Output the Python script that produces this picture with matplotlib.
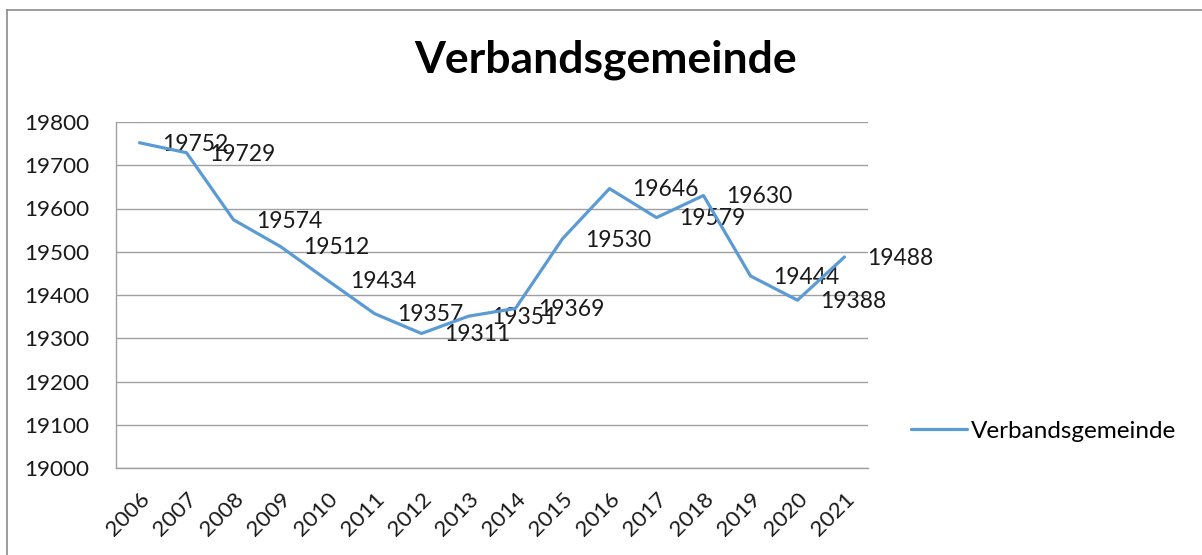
import matplotlib
matplotlib.use("Agg")
import matplotlib.pyplot as plt
from matplotlib.lines import Line2D

years = ["2006", "2007", "2008", "2009", "2010", "2011", "2012", "2013",
         "2014", "2015", "2016", "2017", "2018", "2019", "2020", "2021"]
values = [19752, 19729, 19574, 19512, 19434, 19357, 19311, 19351,
          19369, 19530, 19646, 19579, 19630, 19444, 19388, 19488]
series_name = "Verbandsgemeinde"
title = "Verbandsgemeinde"
yticks = [19000, 19100, 19200, 19300, 19400, 19500, 19600, 19700, 19800]

plt.rcParams['font.family'] = ['Lato', 'DejaVu Sans']

fig = plt.figure(figsize=(12.02, 5.55), dpi=100)
ax = fig.add_axes([116/1202, 1-468/555, (868-116)/1202, (468-122)/555])

x = list(range(len(years)))
ax.plot(x, values, color="#5B9BD5", lw=2.3, label=series_name, zorder=3,
        solid_joinstyle='round', solid_capstyle='round')

for xi, v in zip(x, values):
    ax.annotate(str(v), (xi, v), xytext=(16, -1), textcoords='offset points',
                ha='left', va='center', fontsize=16.5, color='#1a1a1a', zorder=2)

ax.set_xlim(-0.5, len(years) - 0.5)
ax.set_ylim(19000, 19800)
ax.set_yticks(yticks)
ax.set_yticklabels([str(t) for t in yticks], fontsize=16.2, color='#1a1a1a')
ax.set_xticks(x)
ax.set_xticklabels(years, fontsize=16.2, color='#1a1a1a', rotation=45,
                   ha='right', va='top', rotation_mode='anchor')
ax.tick_params(axis='both', length=0)
ax.tick_params(axis='y', pad=19.5)
ax.tick_params(axis='x', pad=15)
ax.grid(axis='y', color='#A0A0A0', lw=1)
ax.set_axisbelow(True)
for s in ['top', 'right']:
    ax.spines[s].set_visible(False)
for s in ['left', 'bottom']:
    ax.spines[s].set_color('#A0A0A0')
    ax.spines[s].set_linewidth(1)

fig.text(0.504, 0.893, title, fontsize=32, fontweight='bold', ha='center', va='center')

ax.legend(loc='center left', bbox_to_anchor=(911/1202, 1-431/555),
          bbox_transform=fig.transFigure, frameon=False, fontsize=17.5,
          handlelength=2.3, handletextpad=0.15, borderpad=0, borderaxespad=0)

# chart border
fig.add_artist(Line2D([7/1202, 7/1202], [0, 1-10/555], transform=fig.transFigure,
                      color='#8C8C8C', lw=1.2))
fig.add_artist(Line2D([7/1202, 1], [1-10/555, 1-10/555], transform=fig.transFigure,
                      color='#8C8C8C', lw=1.2))

fig.savefig("out.png", dpi=100)
